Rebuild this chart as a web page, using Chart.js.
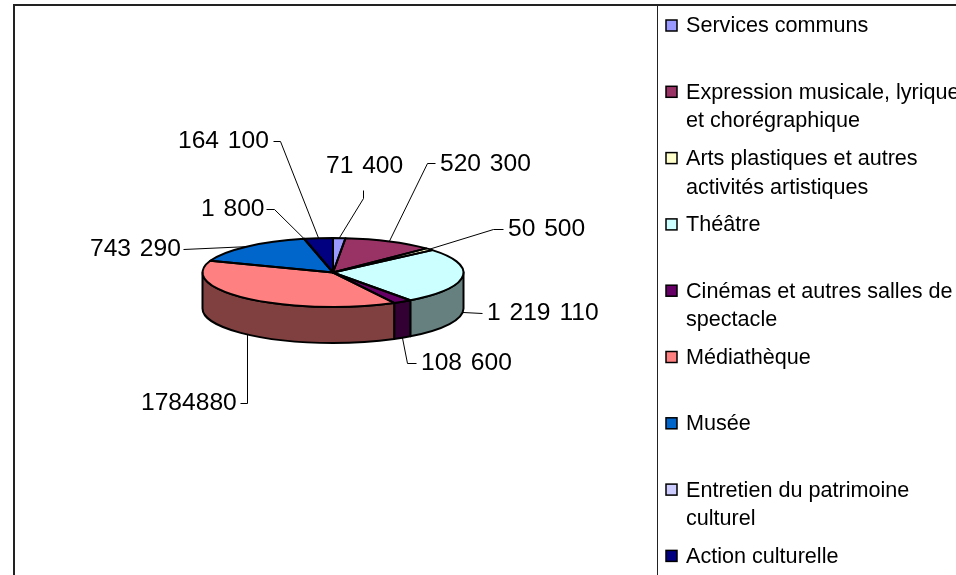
<!DOCTYPE html>
<html lang="fr">
<head>
<meta charset="utf-8">
<title>Budget culture</title>
<script src="https://cdn.jsdelivr.net/npm/chart.js@4/dist/chart.umd.min.js"></script>
<style>
    html, body { margin: 0; padding: 0; background: #fff; overflow: hidden; }
    canvas { display: block; }
</style>
</head>
<body>
<canvas id="grafico" width="956" height="575"></canvas>
<script>
// Data
const categories = [
    "Services communs",
    "Expression musicale, lyrique\net chorégraphique",
    "Arts plastiques et autres\nactivités artistiques",
    "Théâtre",
    "Cinémas et autres salles de\nspectacle",
    "Médiathèque",
    "Musée",
    "Entretien du patrimoine\nculturel",
    "Action culturelle"
];
const values = [71400, 520300, 50500, 1219110, 108600, 1784880, 743290, 1800, 164100];
const valueLabels = ["71 400", "520 300", "50 500", "1 219 110", "108 600", "1784880", "743 290", "1 800", "164 100"];
const colors = ["#9999FF", "#993366", "#FFFFCC", "#CCFFFF", "#660066", "#FF8080", "#0066CC", "#CCCCFF", "#000080"];
const sideColors = ["#4D4D80", "#4D1A33", "#808066", "#668080", "#330033", "#804040", "#003366", "#666680", "#000040"];

// Layout of the value labels: text x (left), text y (middle), and the leader bend points
const labelX = [326, 440, 508, 487, 421, 141, 90, 201, 178];
const labelY = [166, 164, 229, 313, 363, 403, 249, 209, 141];
const leaderBends = [
    [[363, 190], [363, 198]],
    [[435, 163], [427, 163]],
    [[503, 229], [493, 229]],
    [[482, 313]],
    [[416, 363], [407, 363]],
    [[240, 403], [247, 403]],
    [[183, 249]],
    [[266, 209], [274, 209]],
    [[273, 141], [280, 141]]
];

// Pie shape on the page
const centroX = 333;
const centroY = 272.5;
const raio = 130.5;
const raioY = 34.5;
const profundidade = 36;
const achatamento = raioY / raio;

function pontoElipse(angulo, dy) {
    return [centroX + raio * Math.cos(angulo), centroY + raioY * Math.sin(angulo) + dy];
}

// Path of the slice top, in squashed coordinates
function caminhoFatia(ctx, arc) {
    ctx.beginPath();
    ctx.moveTo(centroX, centroY);
    ctx.ellipse(centroX, centroY, raio, raioY, 0, arc.startAngle, arc.endAngle);
    ctx.closePath();
}

const pizza3d = {
    id: "pizza3d",
    beforeDraw(chart) {
        const ctx = chart.ctx;
        ctx.save();
        ctx.fillStyle = "#fff";
        ctx.fillRect(0, 0, 956, 575);
        ctx.strokeStyle = "#222";
        ctx.lineWidth = 2;
        ctx.beginPath();
        ctx.moveTo(14, 575);
        ctx.lineTo(14, 5);
        ctx.lineTo(956, 5);
        ctx.stroke();
        ctx.lineWidth = 1;
        ctx.beginPath();
        ctx.moveTo(657.5, 5);
        ctx.lineTo(657.5, 575);
        ctx.stroke();
        ctx.restore();
    },
    beforeDatasetsDraw(chart) {
        // Pie wall, only the front half shows
        const ctx = chart.ctx;
        const arcs = chart.getDatasetMeta(0).data;
        ctx.save();
        ctx.strokeStyle = "#000";
        ctx.lineWidth = 2;
        ctx.lineJoin = "round";
        arcs.forEach((arc, i) => {
            const ini = Math.max(arc.startAngle, 0);
            const fim = Math.min(arc.endAngle, Math.PI);
            if (fim <= ini) return;
            ctx.beginPath();
            ctx.ellipse(centroX, centroY, raio, raioY, 0, ini, fim);
            ctx.ellipse(centroX, centroY + profundidade, raio, raioY, 0, fim, ini, true);
            ctx.closePath();
            ctx.fillStyle = sideColors[i];
            ctx.fill();
            ctx.stroke();
        });
        ctx.restore();
    },
    beforeDatasetDraw(chart) {
        const ctx = chart.ctx;
        ctx.save();
        ctx.translate(centroX, centroY);
        ctx.scale(1, achatamento);
        ctx.translate(-centroX, -centroY);
    },
    afterDatasetDraw(chart) {
        chart.ctx.restore();
    },
    afterDatasetsDraw(chart) {
        const ctx = chart.ctx;
        const arcs = chart.getDatasetMeta(0).data;
        ctx.save();
        ctx.strokeStyle = "#000";
        ctx.lineWidth = 2;
        ctx.lineJoin = "round";
        arcs.forEach(arc => {
            caminhoFatia(ctx, arc);
            ctx.stroke();
        });

        // Leader lines and value labels
        ctx.lineWidth = 1;
        ctx.strokeStyle = "#000";
        ctx.fillStyle = "#000";
        ctx.font = "24.6px 'Liberation Sans'";
        ctx.textBaseline = "middle";
        ctx.wordSpacing = "2px";
        arcs.forEach((arc, i) => {
            const meio = (arc.startAngle + arc.endAngle) / 2;
            const fimLinha = pontoElipse(meio, Math.sin(meio) > 0 ? profundidade : 0);
            ctx.beginPath();
            leaderBends[i].forEach((p, j) => {
                if (j === 0) ctx.moveTo(p[0] + 0.5, p[1] + 0.5);
                else ctx.lineTo(p[0] + 0.5, p[1] + 0.5);
            });
            ctx.lineTo(fimLinha[0], fimLinha[1]);
            ctx.stroke();
            ctx.fillText(valueLabels[i], labelX[i], labelY[i]);
        });
        ctx.restore();

        // Legend
        ctx.save();
        ctx.font = "21.6px 'Liberation Sans'";
        ctx.textBaseline = "middle";
        categories.forEach((nome, i) => {
            const y = 25 + i * 66.3;
            ctx.fillStyle = colors[i];
            ctx.fillRect(666, y - 5, 11, 11);
            ctx.strokeStyle = "#000";
            ctx.lineWidth = 1.5;
            ctx.strokeRect(666, y - 5, 11, 11);
            ctx.fillStyle = "#000";
            nome.split("\n").forEach((linha, j) => {
                ctx.fillText(linha, 686, y + 1.5 + j * 28.5);
            });
        });
        ctx.restore();
    }
};

const graficoAtual = new Chart(document.getElementById("grafico").getContext("2d"), {
    type: "pie",
    data: {
        labels: categories,
        datasets: [{
            data: values,
            backgroundColor: colors,
            borderWidth: 0
        }]
    },
    options: {
        responsive: false,
        animation: false,
        layout: { padding: { left: 202.5, right: 492.5, top: 142, bottom: 172 } },
        plugins: {
            legend: { display: false },
            tooltip: { enabled: false }
        }
    },
    plugins: [pizza3d]
});
</script>
</body>
</html>
